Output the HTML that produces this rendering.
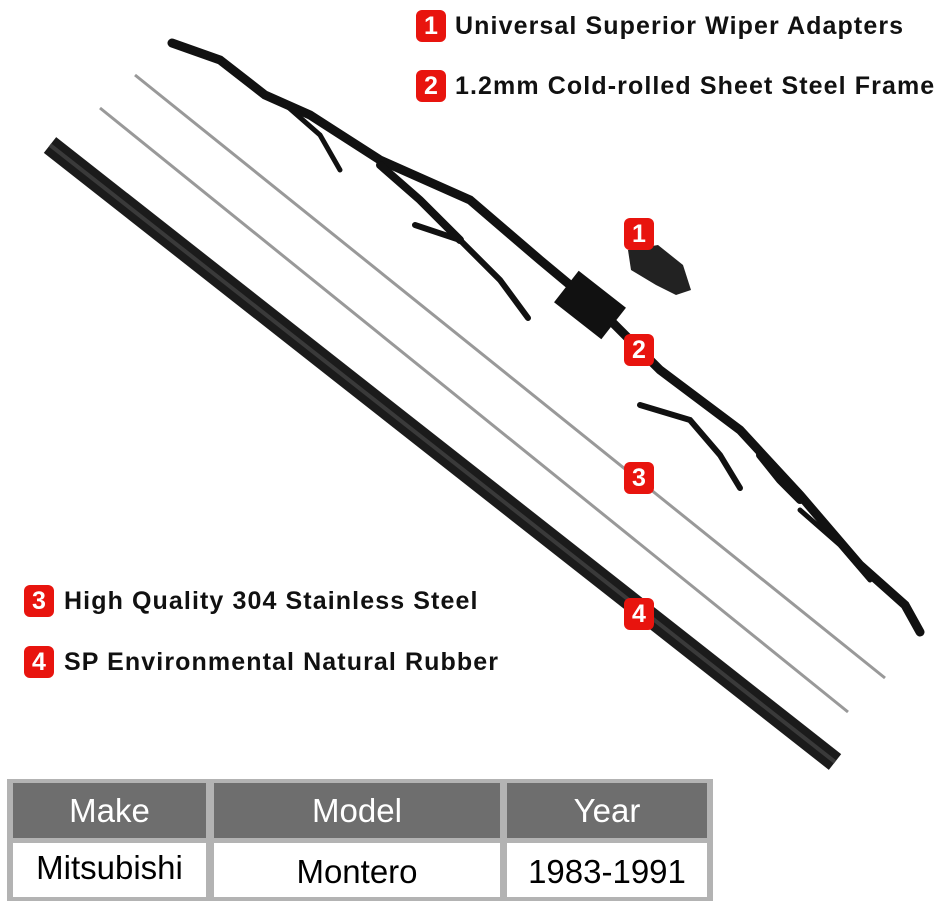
<!DOCTYPE html>
<html><head><style>
body{margin:0;width:947px;height:905px;background:#fff;position:relative;overflow:hidden;font-family:"Liberation Sans","DejaVu Sans",sans-serif}
.b{position:absolute;width:30px;height:32px;background:#e8140e;border-radius:6px;color:#fff;font-weight:bold;font-size:25px;text-align:center;line-height:32px}
.t{position:absolute;font-weight:bold;font-size:25px;color:#111;white-space:nowrap;letter-spacing:1.1px}
.cell{position:absolute;text-align:center;font-size:33px;box-sizing:border-box}
</style></head><body>
<svg width="947" height="905" style="position:absolute;left:0;top:0">
<line x1="50" y1="145" x2="835" y2="762" stroke="#1b1b1b" stroke-width="20"/>
<line x1="50" y1="145" x2="835" y2="762" stroke="#3a3a3a" stroke-width="4"/>
<line x1="135" y1="75" x2="885" y2="678" stroke="#999" stroke-width="3"/>
<line x1="100" y1="108" x2="848" y2="712" stroke="#999" stroke-width="3"/>
<g fill="none" stroke="#111" stroke-linecap="round">
<polyline points="172,43 220,60 265,95 310,115 380,160 470,200 540,260 600,310 660,370 740,430 800,495 860,565 905,605 920,632" stroke-width="9"/>
<polyline points="280,100 320,135 340,170" stroke-width="5"/>
<polyline points="415,225 460,240 500,280 528,318" stroke-width="6"/>
<polyline points="640,405 690,420 720,455 740,488" stroke-width="6"/>
<polyline points="800,510 840,545 870,580" stroke-width="5"/>
<polyline points="380,165 420,200 460,240" stroke-width="8"/>
<polyline points="760,455 780,480 800,500" stroke-width="8"/>
</g>
<rect x="560" y="285" width="60" height="40" fill="#111" transform="rotate(38 590 305)"/>
<path d="M628 250 l30 -5 l25 20 l8 25 l-15 5 l-20 -10 l-25 -15z" fill="#222"/>
</svg>
<div class="b" style="left:416px;top:10px">1</div><div class="t" style="left:455px;top:12px">Universal Superior Wiper Adapters</div>
<div class="b" style="left:416px;top:70px">2</div><div class="t" style="left:455px;top:72px">1.2mm Cold-rolled Sheet Steel Frame</div>
<div class="b" style="left:624px;top:218px">1</div>
<div class="b" style="left:624px;top:334px">2</div>
<div class="b" style="left:624px;top:462px">3</div>
<div class="b" style="left:624px;top:598px">4</div>
<div class="b" style="left:24px;top:585px">3</div><div class="t" style="left:64px;top:587px">High Quality 304 Stainless Steel</div>
<div class="b" style="left:24px;top:646px">4</div><div class="t" style="left:64px;top:648px">SP Environmental Natural Rubber</div>
<div style="position:absolute;left:7px;top:779px;width:706px;height:122px;background:#b3b3b3"></div>
<div class="cell" style="left:13px;top:783px;width:193px;height:55px;background:#6e6e6e;color:#fff;line-height:55px">Make</div>
<div class="cell" style="left:214px;top:783px;width:286px;height:55px;background:#6e6e6e;color:#fff;line-height:55px">Model</div>
<div class="cell" style="left:507px;top:783px;width:200px;height:55px;background:#6e6e6e;color:#fff;line-height:55px">Year</div>
<div class="cell" style="left:13px;top:843px;width:193px;height:54px;background:#fff;line-height:50px">Mitsubishi</div>
<div class="cell" style="left:214px;top:843px;width:286px;height:54px;background:#fff;line-height:58px">Montero</div>
<div class="cell" style="left:507px;top:843px;width:200px;height:54px;background:#fff;line-height:58px">1983-1991</div>
</body></html>
